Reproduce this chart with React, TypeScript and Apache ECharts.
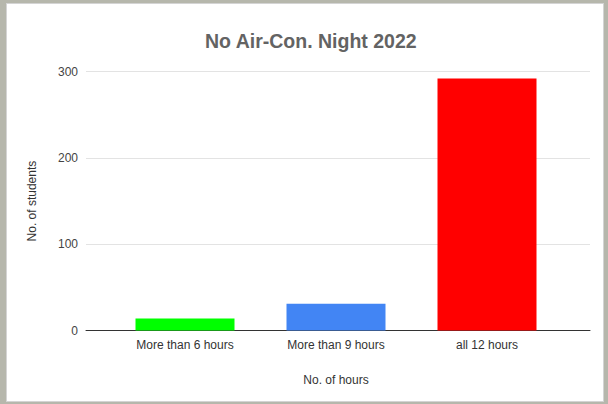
import React, { useEffect, useRef } from "react";
import * as echarts from "echarts";

const categories = ["More than 6 hours", "More than 9 hours", "all 12 hours"];
const students = [14, 31, 292];
const barColors = ["#00ff00", "#4285f4", "#ff0000"];
const yMin = 0;
const yMax = 300;
const yInterval = 100;

const FONT = "'Liberation Sans', Arial, sans-serif";

export default function App() {
  const ref = useRef<HTMLDivElement>(null);

  useEffect(() => {
    if (!ref.current) return;
    const chart = echarts.init(ref.current, null, { renderer: "svg" });
    const top = 71.7;
    const bottom = 73.5;
    chart.setOption({
      animation: false,
      backgroundColor: "transparent",
      title: {
        text: "No Air-Con. Night 2022",
        left: 200,
        top: 26,
        textStyle: { fontFamily: FONT, fontSize: 19.5, fontWeight: "bold", color: "#636363" },
      },
      grid: [
        { left: 109.5, right: 45.5, top, bottom },
        { left: 86, right: 18, top, bottom },
      ],
      xAxis: [
        {
          gridIndex: 0,
          type: "category",
          data: categories,
          axisLine: { show: false },
          axisTick: { show: false },
          axisLabel: { margin: 8, fontSize: 12, color: "#333333", fontFamily: FONT },
          name: "No. of hours",
          nameLocation: "middle",
          nameGap: 43,
          nameTextStyle: { fontSize: 12, color: "#333333", fontFamily: FONT },
        },
        {
          gridIndex: 1,
          type: "value",
          min: 0,
          max: 1,
          axisLine: { show: true, onZero: false, lineStyle: { color: "#333333", width: 1 } },
          axisTick: { show: false },
          axisLabel: { show: false },
          splitLine: { show: false },
        },
      ],
      yAxis: [
        { gridIndex: 0, type: "value", min: yMin, max: yMax, interval: yInterval, show: false },
        {
          gridIndex: 1,
          type: "value",
          min: yMin,
          max: yMax,
          interval: yInterval,
          axisLine: { show: false },
          axisTick: { show: false },
          axisLabel: { margin: 8, fontSize: 12, color: "#444444", fontFamily: FONT },
          splitLine: { show: true, lineStyle: { color: "#e3e3e3", width: 1 } },
          name: "No. of students",
          nameLocation: "middle",
          nameGap: 48,
          nameTextStyle: { fontSize: 12, color: "#333333", fontFamily: FONT },
        },
      ],
      series: [
        {
          type: "bar",
          xAxisIndex: 0,
          yAxisIndex: 0,
          barWidth: 99,
          data: students.map((v, i) => ({ value: v, itemStyle: { color: barColors[i] } })),
        },
      ],
    });
    return () => chart.dispose();
  }, []);

  return (
    <div style={{ position: "fixed", left: 0, top: 0, width: 608, height: 404, background: "#b6b7ac", overflow: "hidden" }}>
      <div
        style={{
          position: "absolute",
          left: 6,
          top: 3,
          width: 596,
          height: 397,
          background: "#ffffff",
          border: "1px solid #d4d4d4",
        }}
      />
      <div ref={ref} style={{ position: "absolute", left: 0, top: 0, width: 608, height: 404 }} />
    </div>
  );
}
